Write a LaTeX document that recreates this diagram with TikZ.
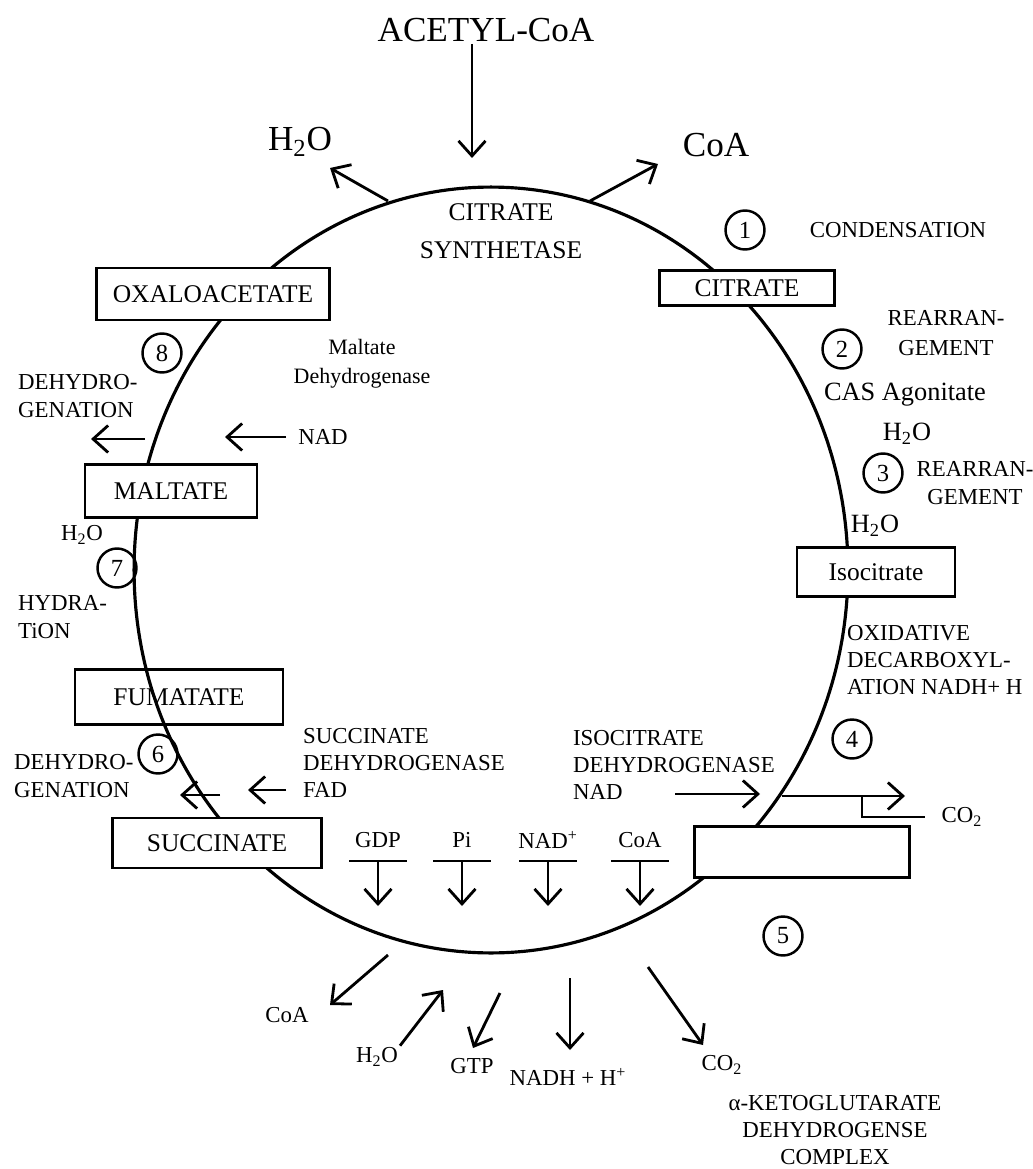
\documentclass[tikz,border=0pt]{standalone}
\usepackage{fontspec}
\setmainfont{Liberation Serif}
\usetikzlibrary{positioning}
\usetikzlibrary{arrows.meta}

\begin{document}
\begin{tikzpicture}[x=0.02cm, y=-0.02cm,
    cyc/.style={line width=1.8pt},
    metab/.style={draw, line width=1.6pt, fill=white, inner sep=0pt, font=\fontsize{14.5}{17}\selectfont},
    stepno/.style={draw, circle, line width=1.4pt, minimum size=0.78cm, inner sep=0pt, font=\fontsize{14}{16}\selectfont},
    big/.style={inner sep=1pt, font=\fontsize{20}{24}\selectfont},
    enz/.style={inner sep=1pt, align=center, font=\fontsize{14.5}{21.5}\selectfont},
    lbl/.style={inner sep=1pt, align=left, font=\fontsize{13}{15.5}\selectfont},
    mid/.style={inner sep=1pt, font=\fontsize{15}{17}\selectfont},
    arr/.style={-{Straight Barb[length=3mm,width=5.4mm]}, line width=1.6pt},
    barline/.style={line width=1.6pt}]
    \useasboundingbox (0,0) rectangle (1032,1169);

    \draw[cyc] (491,570) ellipse [x radius=7.14cm, y radius=7.66cm];

    \node[big] (acetyl) at (486,30) {ACETYL-CoA};
    \node[big] (h2otop) at (300,142) {H\textsubscript{2}O};
    \node[big] (coatop) at (716,145) {CoA};
    \node[enz] (citsyn) at (501,231) {CITRATE\\SYNTHETASE};

    \coordinate (acin) at (472,158);
    \coordinate (o1) at (388,201);
    \coordinate (o1e) at (330,168);
    \coordinate (c1) at (590,201);
    \coordinate (c1e) at (658,164);
    \draw[arr] (acetyl.south -| acin) -- (acin);
    \draw[arr] (o1) -- (o1e);
    \draw[arr] (c1) -- (c1e);

    \node[metab, minimum width=3.5cm, minimum height=0.7cm] (citrate) at (747,288) {CITRATE};
    \node[stepno] (s1) at (745,230) {1};
    \node[lbl] (cond) at (898,230) {CONDENSATION};
    \node[stepno] (s2) at (842,349) {2};
    \node[lbl, align=center, font=\fontsize{13}{17}\selectfont] (rear1) at (946,333) {REARRAN-\\GEMENT};
    \node[mid] (cas) at (905,395) {CAS Agonitate};
    \node[mid] (w1) at (907,434) {H\textsubscript{2}O};
    \node[stepno] (s3) at (883,473) {3};
    \node[lbl, align=center] (rear2) at (975,483) {REARRAN-\\GEMENT};
    \node[mid] (w2) at (875,526) {H\textsubscript{2}O};
    \node[metab, minimum width=3.16cm, minimum height=0.98cm] (isocit) at (876,572) {Isocitrate};
    \node[lbl, anchor=west] (oxdec) at (845,660) {OXIDATIVE\\DECARBOXYL-\\ATION NADH+ H};
    \node[stepno] (s4) at (852,739) {4};

    \node[lbl, anchor=west] (isodh) at (571,765) {ISOCITRATE\\DEHYDROGENASE\\NAD};
    \coordinate (nadin) at (675,794);
    \coordinate (nadend) at (760,794);
    \coordinate (co2in) at (782,796);
    \coordinate (co2end) at (905,796);
    \coordinate (co2br) at (862,796);
    \node[lbl] (co2r) at (962,817) {CO\textsubscript{2}};
    \draw[arr] (nadin) -- (nadend);
    \draw[arr] (co2in) -- (co2end);
    \draw[barline] (co2br) |- ([xshift=-0.3cm]co2r.west);

    \node[metab, minimum width=4.3cm, minimum height=1.02cm] (akg) at (802,852) {};
    \node[stepno] (s5) at (783,936) {5};
    \node[lbl, align=center] (akgdh) at (835,1130) {α-KETOGLUTARATE\\DEHYDROGENSE\\COMPLEX};

    \foreach \nm/\x/\txt in {gdp/378/GDP, pi/462/Pi, nadp/548/NAD\textsuperscript{+}, coain/640/CoA} {
        \node[lbl] (\nm) at (\x,840) {\txt};
        \coordinate (\nm-l) at (\x-29,861);
        \coordinate (\nm-r) at (\x+29,861);
        \coordinate (\nm-e) at (\x,906);
        \draw[barline] (\nm-l) -- (\nm-r);
        \draw[arr] (\nm-l -| \nm) -- (\nm-e);
    }

    \node[lbl] (co2b) at (722,1065) {CO\textsubscript{2}};
    \node[lbl] (nadh) at (568,1077) {NADH + H\textsuperscript{+}};
    \node[lbl] (gtp) at (472,1066) {GTP};
    \node[lbl] (wb) at (377,1057) {H\textsubscript{2}O};
    \node[lbl] (coab) at (287,1015) {CoA};
    \coordinate (co2bs) at (648,967);
    \coordinate (co2be) at (703,1045);
    \coordinate (nadhs) at (570,978);
    \coordinate (nadhe) at (570,1050);
    \coordinate (gtps) at (500,993);
    \coordinate (gtpe) at (473,1048);
    \coordinate (wbe) at (443,990);
    \coordinate (coabs) at (388,955);
    \coordinate (coabe) at (330,1005);
    \draw[arr] (co2bs) -- (co2be);
    \draw[arr] (nadhs) -- (nadhe);
    \draw[arr] (gtps) -- (gtpe);
    \draw[arr] (wb.north east) -- (wbe);
    \draw[arr] (coabs) -- (coabe);

    \node[metab, minimum width=4.66cm, minimum height=1.04cm] (oxalo) at (213,294) {OXALOACETATE};
    \node[stepno] (s8) at (162,353) {8};
    \node[lbl, anchor=west, font=\fontsize{13}{16}\selectfont] (dh8) at (16,396) {DEHYDRO-\\GENATION};
    \node[lbl, align=center, font=\fontsize{12.5}{16.5}\selectfont] (maldh) at (362,364) {Maltate\\Dehydrogenase};
    \node[lbl] (nadl) at (323,437) {NAD};
    \coordinate (dh8s) at (145,439);
    \coordinate (dh8e) at (91,439);
    \coordinate (nadls) at (286,437);
    \coordinate (nadle) at (225,437);
    \draw[arr] (dh8s) -- (dh8e);
    \draw[arr] (nadls) -- (nadle);

    \node[metab, minimum width=3.44cm, minimum height=1.06cm] (maltate) at (171,491) {MALTATE};
    \node[lbl] (w7) at (82,535) {H\textsubscript{2}O};
    \node[stepno] (s7) at (117,568) {7};
    \node[lbl, anchor=west] (hyd) at (16,617) {HYDRA-\\TiON};
    \node[metab, fill=none, minimum width=4.16cm, minimum height=1.1cm] (fum) at (179,697) {FUMATATE};

    \node[stepno] (s6) at (158,754) {6};
    \node[lbl, anchor=west] (dh6) at (12,776) {DEHYDRO-\\GENATION};
    \node[lbl, anchor=west] (sucdh) at (301,763) {SUCCINATE\\DEHYDROGENASE\\FAD};
    \coordinate (dh6s) at (220,795);
    \coordinate (dh6e) at (180,795);
    \coordinate (fads) at (286,790);
    \coordinate (fade) at (248,790);
    \draw[arr] (dh6s) -- (dh6e);
    \draw[arr] (fads) -- (fade);
    \node[metab, minimum width=4.18cm, minimum height=1cm] (succ) at (217,843) {SUCCINATE};
\end{tikzpicture}
\end{document}
